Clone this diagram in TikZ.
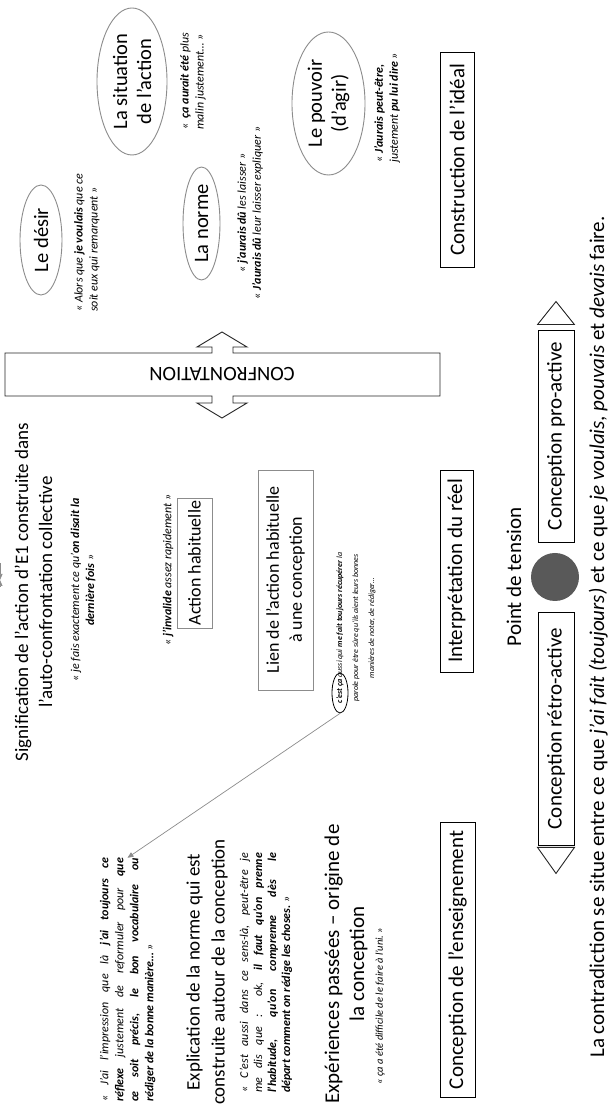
\documentclass[tikz,border=0pt]{standalone}
\usepackage{fontspec}
\setmainfont{Carlito}
\usetikzlibrary{shapes.geometric,arrows.meta,calc}
\newcommand\setfs[2]{\fontsize{#1}{#2}\selectfont}
\newcommand\justline[2]{\makebox[#1][s]{#2}}
\definecolor{dotgrey}{HTML}{595959}
\definecolor{linegrey}{HTML}{8C8C8C}

\begin{document}
\begin{tikzpicture}[x=1pt,y=1pt,rotate=90,transform shape,
  ell/.style={ellipse,draw=linegrey,line width=0.9pt,inner sep=0pt,align=center,font=\setfs{20.5}{24}},
  bbox/.style={rectangle,draw=black,line width=0.9pt,inner sep=0pt,font=\setfs{21}{25}},
  gbox/.style={rectangle,draw=linegrey,line width=0.9pt,inner sep=0pt,align=center,font=\setfs{18}{23}},
  quote/.style={inner sep=0pt,font=\setfs{12}{15}\itshape},
  head/.style={inner sep=0pt,align=center,font=\setfs{20}{24.5}},
  conn/.style={draw=linegrey,line width=0.7pt,-{Triangle[length=6pt,width=5pt]}},
  confr/.style={draw=black!85,line width=0.9pt,fill=white,line join=miter},
  tri/.style={draw=black!85,line width=0.9pt,fill=white}]

% page frame (landscape coordinates, turned upright by the rotation)
\fill[white] (0,0) rectangle (1109,-608);
\useasboundingbox (0,0) rectangle (1109,-608);

% --- ideal side: desire, norm, situation, power ---
\node[ell,minimum width=110pt,minimum height=42pt] (desir) at (869,-41) {Le désir};
\node[quote,anchor=west,align=left] (qdesir) at (797,-87)
  {«~Alors que \textbf{je voulais} que ce\\soit eux qui remarquent~»};

\node[ell,minimum width=147pt,minimum height=70pt] (situ) at (1027.5,-132) {La situation\\de l’action};
\node[quote,anchor=west,align=left] (qsitu) at (979,-193)
  {«~~\textbf{ça aurait été} plus\\malin justement…~»};

\node[ell,minimum width=113pt,minimum height=37pt] (norme) at (885.5,-201.5) {La norme};
\node[quote,align=center] (qnorme) at (896,-250)
  {«~\textbf{j’aurais dû} les laisser~»\\«~\textbf{J’aurais dû} leur laisser expliquer~»};

\node[ell,minimum width=143pt,minimum height=73pt] (pouv) at (1005.5,-328.5) {Le pouvoir\\(d’agir)};
\node[quote,anchor=west,align=left] (qpouv) at (946,-387)
  {«~\textbf{J’aurais peut-être,}\\justement \textbf{pu lui dire}~»};

\node[bbox,minimum width=215pt,minimum height=34pt] (ideal) at (949.5,-457) {Construction de l’idéal};

% --- confrontation double arrow ---
\draw[confr] (713,-5) -- (756,-5) -- (756,-212) -- (762,-212) -- (762,-197) -- (777,-222)
  -- (762,-247) -- (762,-233) -- (756,-233) -- (756,-440) -- (713,-440) -- (713,-233)
  -- (706,-233) -- (706,-247) -- (691,-222) -- (706,-197) -- (706,-212) -- (713,-212) -- cycle;
\node[rotate=90,inner sep=0pt,font=\setfs{20.5}{24}] (confront) at (734.5,-222) {CONFRONTATION};

% --- real side: meaning of the action ---
\node[head,font=\setfs{19}{24}] (signif) at (517,-33.5)
  {Signification de l’action d’E1 construite dans\\l’auto-confrontation collective};
\node[quote,align=center] (qfais) at (519,-83)
  {«~je fais exactement ce qu’\textbf{on disait la}\\\textbf{dernière fois}~»};
\node[quote] (inv) at (539,-168) {«~\textbf{j’invalide} assez rapidement~»};
\node[gbox,minimum width=130pt,minimum height=35pt] (act) at (546,-194.5) {Action habituelle};
\node[gbox,minimum width=220pt,minimum height=55pt] (lien) at (529,-285.5)
  {Lien de l’action habituelle\\à une conception};

\coordinate (a1) at (524,0);
\coordinate (a2) at (527,0);
\draw[conn,shorten <=4pt,shorten >=10pt] (a1 -| qfais.south) -- (a1 -| inv.north);
\draw[conn] (a2 -| act.south) -- (a2 -| lien.north);

\node[quote,align=center,font=\setfs{8}{16}\itshape] (qcest) at (481,-356)
  {\textbf{c’est ça} aussi qui \textbf{me fait toujours récupérer} la\\
   parole pour être sûre qu’ils aient leurs bonnes\\
   manières de noter, de rédiger…};
\node[ellipse,draw=black,line width=0.8pt,minimum width=40pt,minimum height=16pt,inner sep=0pt] (cestca) at (416,-340) {};

% --- norm explained around the conception ---
\node[quote,align=left] (qimpr) at (129,-127.5)
  {\justline{244pt}{«~J’ai l’impression que là \textbf{j’ai toujours ce}}\\
   \justline{244pt}{\textbf{réflexe} justement de reformuler pour \textbf{que}}\\
   \justline{244pt}{\textbf{ce soit précis, le bon vocabulaire ou}}\\
   \textbf{rédiger de la bonne manière…}~»};
\draw[conn] (cestca.west) -- (qimpr.east);

\node[head,font=\setfs{19}{25}] (expl) at (137,-207)
  {Explication de la norme qui est\\construite autour de la conception};
\node[quote,align=left,font=\setfs{12}{14}\itshape] (qaussi) at (136,-266)
  {\justline{240pt}{«~C’est aussi dans ce sens-là, peut-être je}\\
   \justline{240pt}{me dis que~: ok, \textbf{il faut qu’on prenne}}\\
   \justline{240pt}{\textbf{l’habitude, qu’on comprenne dès le}}\\
   \textbf{départ comment on rédige les choses.}~»};

\node[head,font=\setfs{21}{25}] (exper) at (145,-346)
  {Expériences passées – origine de\\la conception};
\node[quote,font=\setfs{10.5}{13}\itshape] (quni) at (103,-380) {«~ça a été difficile de le faire à l’uni.~»};

\node[bbox,minimum width=275pt,minimum height=35pt] (ens) at (149,-457.5) {Conception de l’enseignement};
\node[bbox,minimum width=202pt,minimum height=33pt] (interp) at (538,-456.5) {Interprétation du réel};

% --- point of tension ---
\node[inner sep=0pt,font=\setfs{21}{25}] (tension) at (532,-514) {Point de tension};
\node[circle,fill=dotgrey,minimum size=48pt,inner sep=0pt] (dot) at (532,-555) {};

\node[bbox,minimum width=233pt,minimum height=36pt] (retro) at (380.5,-556) {Conception rétro-active};
\draw[tri] ($(retro.north west)+(-2,0)$) -- ($(retro.west)+(-28,0)$) -- ($(retro.south west)+(-2,0)$) -- cycle;

\node[bbox,minimum width=212pt,minimum height=36pt] (pro) at (673,-556) {Conception pro-active};
\draw[tri] ($(pro.north east)+(5,0)$) -- ($(pro.east)+(28,0)$) -- ($(pro.south east)+(5,0)$) -- cycle;

\node[anchor=base,inner sep=0pt,font=\setfs{21}{25}] (contra) at (472,-604)
  {La contradiction se situe entre ce que \textit{j’ai fait (toujours)} et ce que \textit{je voulais}, \textit{pouvais} et \textit{devais} faire.};
\end{tikzpicture}
\end{document}
